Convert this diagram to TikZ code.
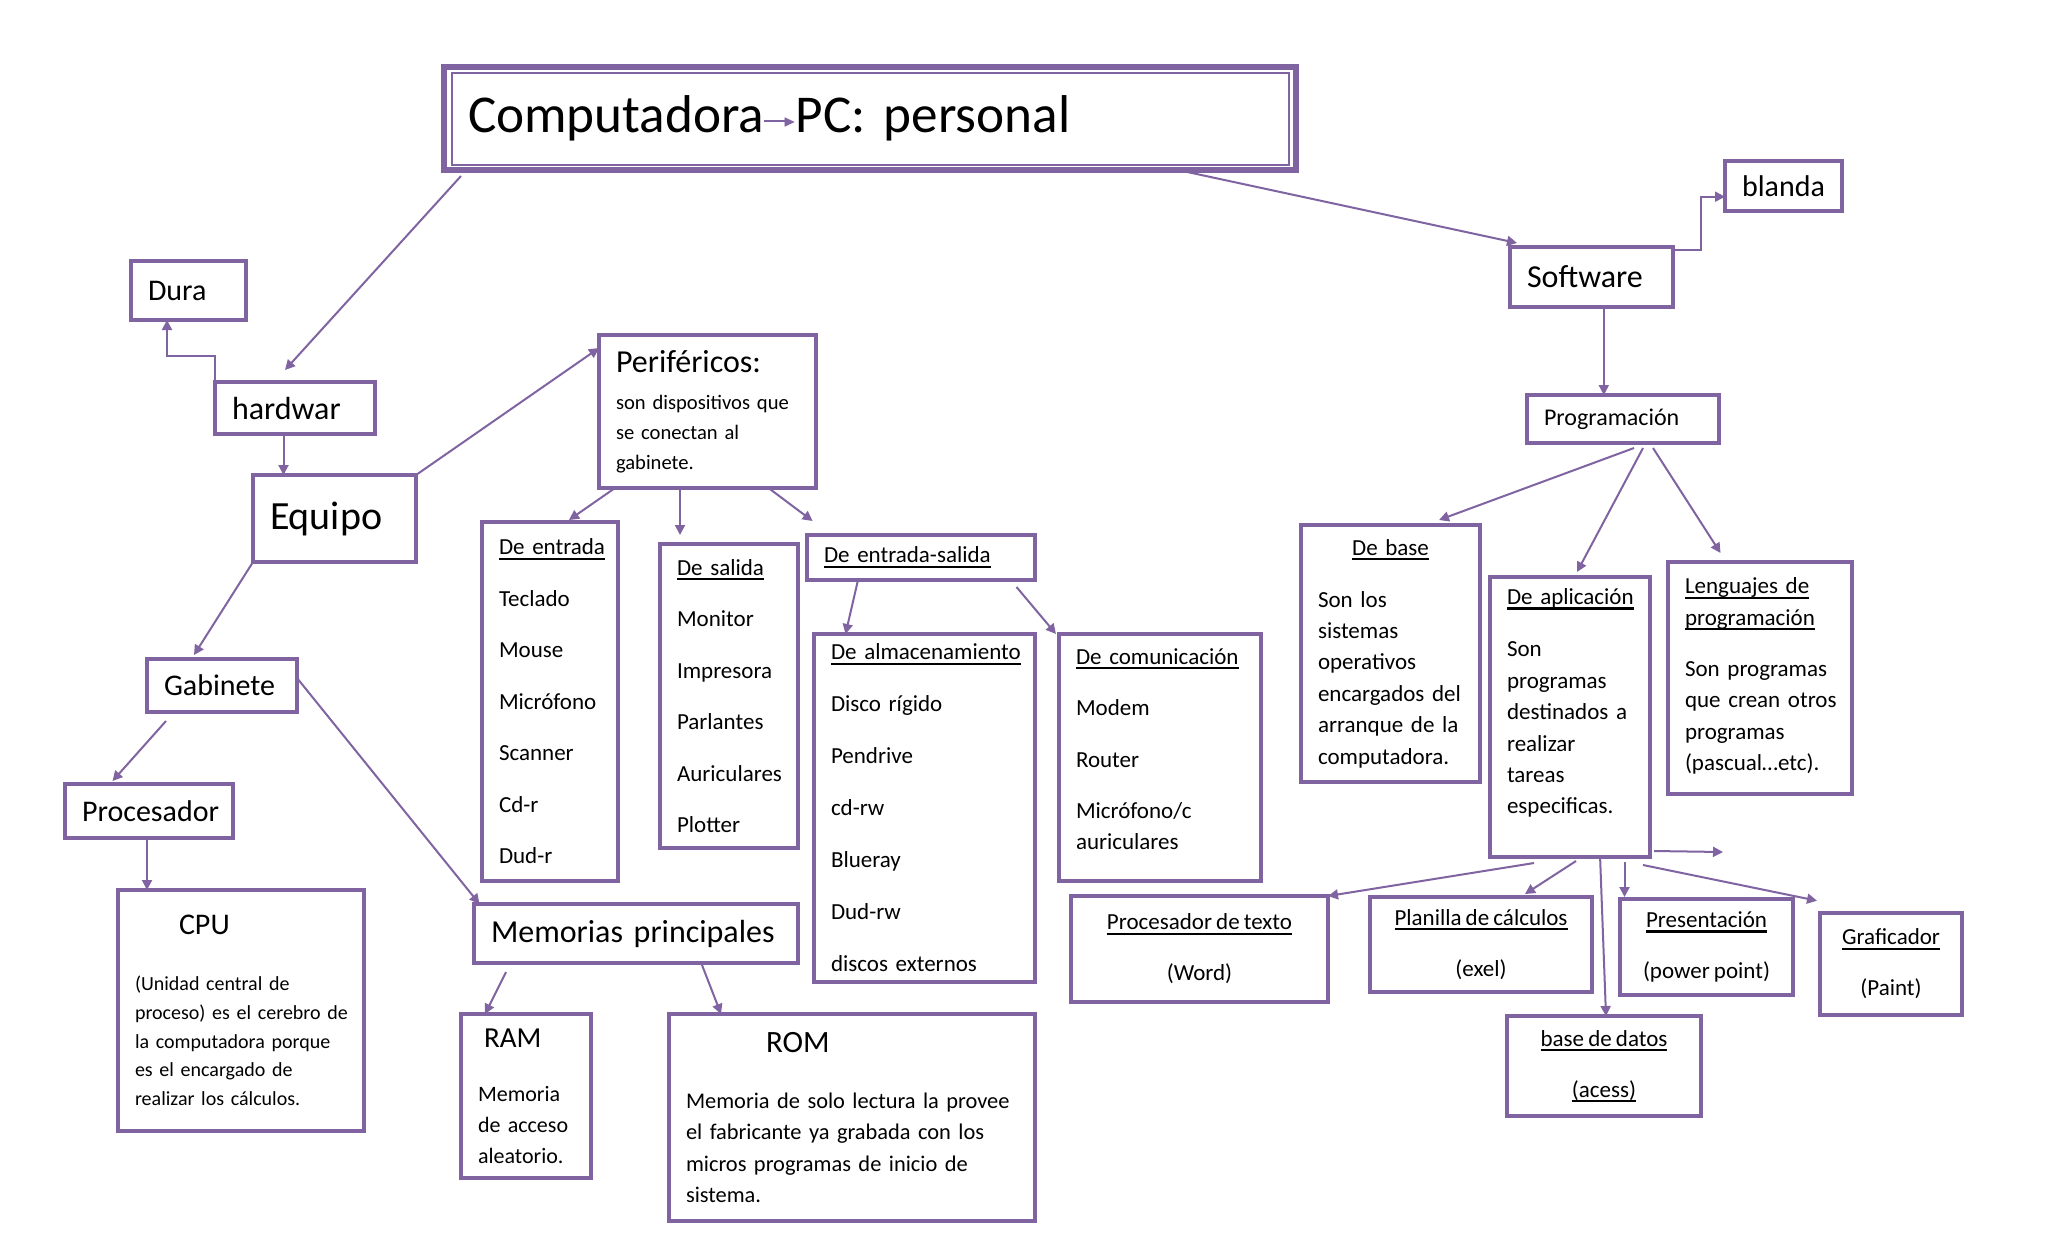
\documentclass[tikz,border=0pt]{standalone}
\usepackage{amssymb}
\usepackage{fontspec}
\setmainfont{Carlito}[WordSpace=0.8]
\usepackage{tikz}
\usetikzlibrary{arrows.meta}
\definecolor{morado}{HTML}{8064A2}
\newcommand{\subrayar}[1]{\leavevmode\setbox0=\hbox{#1}\rlap{\vrule height -1.3pt depth 2.5pt width \wd0}\box0}
\newcommand{\flechita}{\textcolor{morado}{\rule[5.2pt]{11pt}{0.9pt}\kern-1.5pt\raisebox{3.2pt}{\fontsize{8}{8}\selectfont$\blacktriangleright$}}}
\tikzset{
  box/.style={draw=morado, line width=2pt, fill=white, anchor=north west, align=left, inner xsep=8.5pt, inner ysep=2pt, outer sep=0pt},
  cbox/.style={draw=morado, line width=2pt, fill=white, anchor=north west, align=center, inner ysep=2pt, outer sep=0pt, font=\fontsize{11.5}{25.5}\selectfont},
  conn/.style={draw=morado, line width=1pt, -{Triangle[length=5pt,width=5pt]}}
}
\frenchspacing

\begin{document}
\begin{tikzpicture}[x=0.5pt, y=-0.5pt]
  \fill[white] (0,0) rectangle (2048,1243);

  % hardware side
  \node[box, line width=3pt, inner xsep=12pt, text width=402pt, minimum height=51.5pt, font=\fontsize{26.6}{30}\selectfont] (titulo) at (444,67) {Computadora\flechita PC: personal};
  \draw[morado, line width=1pt] ([xshift=4pt,yshift=-3pt]titulo.north west) rectangle ([xshift=-3.5pt,yshift=2.5pt]titulo.south east);
  \node[box, text width=40.5pt, minimum height=29.5pt, font=\fontsize{15}{18}\selectfont] (dura) at (131,261) {Dura};
  \node[box, text width=63pt, minimum height=26pt, font=\fontsize{16}{19}\selectfont] (hardwar) at (215,382) {hardwar};
  \node[box, text width=64.5pt, minimum height=43.5pt, font=\fontsize{20}{24}\selectfont] (equipo) at (253,475) {Equipo};
  \node[box, text width=91.5pt, minimum height=76.5pt, font=\fontsize{10.3}{15}\selectfont] (perif) at (599,335) {{\fontsize{16}{16}\selectfont Periféricos:}\\[3.5pt]son dispositivos que\\se conectan al\\gabinete.};
  \node[box, text width=58pt, minimum height=26.5pt, font=\fontsize{15}{18}\selectfont] (gabinete) at (147,659) {Gabinete};
  \node[box, text width=67pt, minimum height=27pt, font=\fontsize{15}{18}\selectfont] (procesador) at (65,784) {Procesador};
  \node[box, text width=106pt, minimum height=120.5pt, font=\fontsize{10}{14.4}\selectfont] (cpu) at (118,890) {\hspace*{22pt}{\fontsize{15}{15}\selectfont CPU}\\[13.6pt]\mbox{(Unidad central de}\\\mbox{proceso) es el cerebro de}\\\mbox{la computadora porque}\\\mbox{es el encargado de}\\\mbox{realizar los cálculos.}};
  \node[box, text width=145pt, minimum height=29.5pt, font=\fontsize{16}{19}\selectfont] (memorias) at (474,904) {Memorias principales};
  \node[box, text width=48pt, minimum height=82pt, font=\fontsize{11}{15.5}\selectfont] (ram) at (461,1014) {\hspace*{3pt}{\fontsize{14.5}{14.5}\selectfont RAM}\\[11.5pt]Memoria\\\mbox{de acceso}\\aleatorio.};
  \node[box, text width=166pt, minimum height=103.5pt, font=\fontsize{11.2}{15.7}\selectfont] (rom) at (669,1014) {\hspace*{40pt}{\fontsize{15.5}{15.5}\selectfont ROM}\\[12.3pt]\mbox{Memoria de solo lectura la provee}\\\mbox{el fabricante ya grabada con los}\\\mbox{micros programas de inicio de}\\sistema.};
  \node[box, text width=51pt, minimum height=179.5pt, font=\fontsize{11.5}{25.75}\selectfont] (entrada) at (482,522) {\subrayar{De entrada}\\Teclado\\Mouse\\Micrófono\\Scanner\\Cd-r\\Dud-r};
  \node[box, text width=52pt, minimum height=152pt, font=\fontsize{11.5}{25.75}\selectfont] (salida) at (660,544) {\subrayar{De salida}\\Monitor\\Impresora\\Parlantes\\Auriculares\\Plotter};
  \node[box, text width=97pt, minimum height=22.5pt, font=\fontsize{11.5}{14}\selectfont] (entsal) at (807,535) {\subrayar{De entrada-salida}};
  \node[box, text width=93.5pt, minimum height=174pt, font=\fontsize{11.5}{26}\selectfont] (almac) at (814,634) {\subrayar{De almacenamiento}\\\mbox{Disco rígido}\\Pendrive\\cd-rw\\Blueray\\Dud-rw\\\mbox{discos externos}};
  \node[box, text width=84pt, minimum height=123.5pt, font=\fontsize{11.5}{25.75}\selectfont] (comunic) at (1059,634) {\subrayar{De comunicación}\\Modem\\Router\\Micrófono/c\\[-10.25pt]auriculares\\[-17.5pt]\mbox{}};

  % software side
  \node[box, text width=41.5pt, minimum height=25pt, font=\fontsize{15}{18}\selectfont] (blanda) at (1725,161) {blanda};
  \node[box, text width=64.5pt, minimum height=30pt, font=\fontsize{16}{19}\selectfont] (software) at (1510,247) {Software};
  \node[box, text width=79pt, minimum height=24pt, font=\fontsize{12}{14}\selectfont] (program) at (1527,395) {Programación};
  \node[box, text width=72.5pt, minimum height=128.5pt, font=\fontsize{11.5}{15.7}\selectfont] (base) at (1301,525) {\makebox[\linewidth]{\subrayar{De base}}\\[10.3pt]Son los\\sistemas\\operativos\\\mbox{encargados del}\\\mbox{arranque de la}\\computadora.};
  \node[box, text width=63pt, minimum height=140pt, font=\fontsize{11.5}{15.7}\selectfont] (aplic) at (1490,577) {\subrayar{De aplicación}\\[10.3pt]Son\\programas\\\mbox{destinados a}\\realizar\\tareas\\especificas.\\\mbox{}};
  \node[box, text width=75pt, minimum height=116pt, font=\fontsize{11.5}{15.7}\selectfont] (leng) at (1668,562) {\subrayar{Lenguajes de}\\\subrayar{programación}\\[9.8pt]\mbox{Son programas}\\\mbox{que crean otros}\\programas\\(pascual\ldots etc).\\[-12pt]\mbox{}};
  \node[cbox, minimum width=128.5pt, minimum height=53pt] (proctexto) at (1071,896) {\subrayar{Procesador de texto}\\(Word)};
  \node[cbox, minimum width=111pt, minimum height=47.5pt] (planilla) at (1370,897) {\subrayar{Planilla de cálculos}\\(exel)};
  \node[cbox, minimum width=86.5pt, minimum height=48pt] (present) at (1620,899) {\subrayar{Presentación}\\(power point)};
  \node[cbox, minimum width=71pt, minimum height=51pt] (grafic) at (1820,913) {\subrayar{Graficador}\\(Paint)};
  \node[cbox, minimum width=97pt, minimum height=50pt] (basedatos) at (1507,1016) {\subrayar{base de datos}\\\subrayar{(acess)}};
  \coordinate (libre) at (1723,852);

  % connectors
  \draw[conn] ([xshift=8.5pt,yshift=-3pt]titulo.south west) -- ([xshift=-5pt,yshift=6pt]hardwar.north);
  \draw[conn] ([xshift=154pt]titulo.south) -- ([xshift=3.5pt,yshift=2pt]software.north west);
  \draw[conn] (hardwar.north west) -- ++(0,-26) -| ([xshift=-10.75pt]dura.south);
  \draw[conn] ([xshift=-5.75pt]hardwar.south) -- ([xshift=-5.75pt]hardwar.south |- equipo.north);
  \draw[conn] (equipo.north east) -- ([yshift=-6.5pt]perif.north west);
  \draw[conn] (equipo.south west) -- ([xshift=-14pt,yshift=2pt]gabinete.north);
  \draw[conn] ([xshift=-28pt,yshift=-4.5pt]gabinete.south) -- ([xshift=-18.25pt,yshift=1.5pt]procesador.north);
  \draw[conn] ([yshift=3.75pt]gabinete.east) -- ([xshift=2.75pt]memorias.north west);
  \draw[conn] ([xshift=-1pt]procesador.south) -- ([xshift=-1pt]procesador.south |- cpu.north);
  \draw[conn] ([xshift=-65pt,yshift=-4.5pt]memorias.south) -- ([xshift=-20.5pt]ram.north);
  \draw[conn] ([xshift=33pt,yshift=-1pt]memorias.south) -- ([xshift=-65.5pt]rom.north);
  \draw[conn] ([xshift=8pt]perif.south west) -- ([xshift=9.5pt,yshift=1pt]entrada.north);
  \draw[conn, shorten >=4.5pt] ([xshift=-13.75pt]perif.south) -- ([xshift=-13.75pt]perif.south |- salida.north);
  \draw[conn] ([xshift=30.5pt]perif.south) -- ([xshift=2.8pt,yshift=7pt]entsal.north west);
  \draw[conn] ([xshift=-31.5pt]entsal.south) -- ([xshift=-39.5pt]almac.north);
  \draw[conn] ([xshift=-9.25pt,yshift=-3.5pt]entsal.south east) -- ([xshift=-1.5pt]comunic.north west);
  \draw[conn] ([yshift=-1.5pt]software.north east) -- ++(28,0) |- ([yshift=-5.35pt]blanda.west);
  \draw[conn] ([xshift=6.15pt]software.south) -- ([xshift=6.15pt]software.south |- program.north);
  \draw[conn] ([xshift=5.5pt,yshift=-2.5pt]program.south) -- ([xshift=24.25pt,yshift=2.5pt]base.north);
  \draw[conn] ([xshift=10pt,yshift=-2.5pt]program.south) -- ([xshift=3.5pt,yshift=2.5pt]aplic.north);
  \draw[conn] ([xshift=15pt,yshift=-2.5pt]program.south) -- ([xshift=-19.75pt,yshift=4.5pt]leng.north);
  \draw[conn] ([xshift=-18pt,yshift=-3pt]aplic.south) -- (proctexto.north east);
  \draw[conn] ([xshift=3pt,yshift=-2pt]aplic.south) -- ([xshift=22pt,yshift=1.5pt]planilla.north);
  \draw[conn] ([xshift=15pt,yshift=1pt]aplic.south) -- ([xshift=1pt]basedatos.north);
  \draw[conn] ([xshift=27.25pt,yshift=-2.5pt]aplic.south) -- ([xshift=2.25pt,yshift=1pt]present.north west);
  \draw[conn] ([xshift=36.5pt,yshift=-4pt]aplic.south) -- ([xshift=-1.5pt,yshift=6.15pt]grafic.north west);
  \draw[conn] ([xshift=2pt,yshift=3pt]aplic.south east) -- (libre);
\end{tikzpicture}
\end{document}
